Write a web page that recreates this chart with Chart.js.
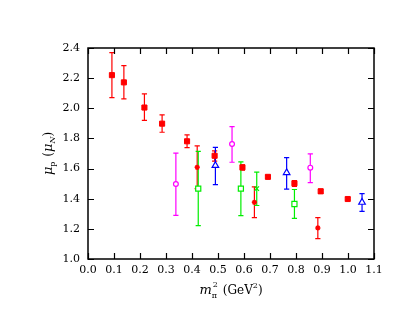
<!DOCTYPE html>
<html><head><meta charset="utf-8">
<script src="https://cdn.jsdelivr.net/npm/chart.js@4"></script>
<style>html,body{margin:0;padding:0;background:#fff}canvas{display:block}</style>
</head><body>
<div style="width:415px;height:321px"><canvas id="c" width="415" height="321"></canvas></div>
<script>
// ---- data (x = m_pi^2 in GeV^2, y = mu_p in mu_N, lo/hi = error bar ends)
const redSqX  = [0.092, 0.138, 0.217, 0.285, 0.381, 0.487, 0.594, 0.692, 0.794, 0.895, 0.999];
const redSqY  = [2.22, 2.172, 2.005, 1.898, 1.781, 1.685, 1.608, 1.545, 1.502, 1.449, 1.398];
const redSqLo = [2.071, 2.062, 1.920, 1.841, 1.739, 1.650, 1.590, 1.535, 1.482, 1.436, 1.390];
const redSqHi = [2.369, 2.283, 2.095, 1.956, 1.823, 1.718, 1.625, 1.555, 1.520, 1.463, 1.408];

const redStX  = [0.420, 0.640, 0.884];
const redStY  = [1.608, 1.376, 1.206];
const redStLo = [1.467, 1.275, 1.135];
const redStHi = [1.750, 1.478, 1.275];

const grnSqX  = [0.424, 0.588, 0.794];
const grnSqY  = [1.467, 1.467, 1.365];
const grnSqLo = [1.222, 1.288, 1.270];
const grnSqHi = [1.714, 1.645, 1.461];

const grnXX   = [0.649];
const grnXY   = [1.467];
const grnXLo  = [1.355];
const grnXHi  = [1.577];

const bluX    = [0.490, 0.764, 1.054];
const bluY    = [1.620, 1.573, 1.376];
const bluLo   = [1.494, 1.464, 1.316];
const bluHi   = [1.741, 1.673, 1.434];

const magX    = [0.338, 0.554, 0.855];
const magY    = [1.498, 1.763, 1.606];
const magLo   = [1.290, 1.642, 1.507];
const magHi   = [1.703, 1.878, 1.697];

const xTickVals = [0.0,0.1,0.2,0.3,0.4,0.5,0.6,0.7,0.8,0.9,1.0,1.1];
const yTickVals = [1.0,1.2,1.4,1.6,1.8,2.0,2.2,2.4];

function pts(xs, ys, lo, hi){ return xs.map((x,i)=>({x:x, y:ys[i], lo:lo[i], hi:hi[i]})); }

const datasets = [
  {data: pts(redSqX,redSqY,redSqLo,redSqHi), pointStyle:'rect', radius:3.6, borderColor:'#ff0000', backgroundColor:'#ff0000', borderWidth:1, ebColor:'#ff0000'},
  {data: pts(redStX,redStY,redStLo,redStHi), pointStyle:'star', radius:2.6, borderColor:'#ff0000', backgroundColor:'#ff0000', borderWidth:1.5, ebColor:'#ff0000'},
  {data: pts(grnSqX,grnSqY,grnSqLo,grnSqHi), pointStyle:'rect', radius:3.6, borderColor:'#00ee00', backgroundColor:'#ffffff', borderWidth:1.2, ebColor:'#00ee00'},
  {data: pts(grnXX,grnXY,grnXLo,grnXHi), pointStyle:'crossRot', radius:3.2, borderColor:'#00ee00', backgroundColor:'#00ee00', borderWidth:1.2, ebColor:'#00ee00'},
  {data: pts(bluX,bluY,bluLo,bluHi), pointStyle:'triangle', radius:3.8, borderColor:'#0000ff', backgroundColor:'#ffffff', borderWidth:1.2, ebColor:'#0000ff'},
  {data: pts(magX,magY,magLo,magHi), pointStyle:'circle', radius:2.4, borderColor:'#ff00ff', backgroundColor:'#ffffff', borderWidth:1.2, ebColor:'#ff00ff'}
];
datasets.forEach(d=>{ d.pointRadius=d.radius; d.showLine=false; });

const errorBars = {
  id:'errorBars',
  beforeDatasetsDraw(chart){
    const {ctx, scales:{x, y}} = chart;
    ctx.save();
    chart.data.datasets.forEach(ds=>{
      ctx.strokeStyle = ds.ebColor; ctx.lineWidth = 1.2;
      ds.data.forEach(p=>{
        const px = x.getPixelForValue(p.x);
        const pl = y.getPixelForValue(p.lo), ph = y.getPixelForValue(p.hi);
        ctx.beginPath();
        ctx.moveTo(px, pl); ctx.lineTo(px, ph);
        ctx.moveTo(px-2.6, pl); ctx.lineTo(px+2.6, pl);
        ctx.moveTo(px-2.6, ph); ctx.lineTo(px+2.6, ph);
        ctx.stroke();
      });
    });
    ctx.restore();
  }
};

const frame = {
  id:'frame',
  afterDraw(chart){
    const {ctx, chartArea:a, scales:{x, y}} = chart;
    ctx.save();
    ctx.strokeStyle = '#000'; ctx.lineWidth = 1.5;
    ctx.strokeRect(a.left, a.top, a.right-a.left, a.bottom-a.top);
    ctx.lineWidth = 1.2;
    ctx.beginPath();
    xTickVals.forEach(v=>{
      const px = Math.round(x.getPixelForValue(v))+0.5;
      ctx.moveTo(px, a.bottom); ctx.lineTo(px, a.bottom-6);
      ctx.moveTo(px, a.top); ctx.lineTo(px, a.top+6);
    });
    yTickVals.forEach(v=>{
      const py = Math.round(y.getPixelForValue(v))+0.5;
      ctx.moveTo(a.left, py); ctx.lineTo(a.left+6, py);
      ctx.moveTo(a.right, py); ctx.lineTo(a.right-6, py);
    });
    ctx.stroke();

    // axis titles
    ctx.fillStyle = '#000';
    ctx.textBaseline = 'alphabetic';
    // x title: m_pi^2 (GeV^2)
    const cx = (a.left+a.right)/2, by = 294;
    const parts = [];
    ctx.font = 'italic 13px "DejaVu Serif"'; const wm = ctx.measureText('m').width;
    ctx.font = '8px "DejaVu Serif"'; const wpi = ctx.measureText('π').width, w2 = ctx.measureText('2').width;
    ctx.font = '12px "DejaVu Serif"'; const wg = ctx.measureText(' (GeV').width, wr = ctx.measureText(')').width;
    const total = wm + Math.max(wpi,w2) + 2 + wg + w2 + wr;
    let xx = cx - total/2;
    ctx.textAlign = 'left';
    ctx.font = 'italic 13px "DejaVu Serif"'; ctx.fillText('m', xx, by); xx += wm;
    ctx.font = '8px "DejaVu Serif"'; ctx.fillText('π', xx, by+4); ctx.fillText('2', xx+1, by-7); xx += Math.max(wpi,w2)+2;
    ctx.font = '12px "DejaVu Serif"'; ctx.fillText(' (GeV', xx, by); xx += wg;
    ctx.font = '8px "DejaVu Serif"'; ctx.fillText('2', xx, by-6); xx += w2;
    ctx.font = '12px "DejaVu Serif"'; ctx.fillText(')', xx, by);

    // y title: mu_p (mu_N) rotated
    ctx.translate(52, (a.top+a.bottom)/2);
    ctx.rotate(-Math.PI/2);
    ctx.font = 'italic 13px "DejaVu Serif"'; const wmu = ctx.measureText('μ').width;
    ctx.font = '8px "DejaVu Serif"'; const wp = ctx.measureText('p').width, wN = ctx.measureText('N').width;
    ctx.font = '12px "DejaVu Serif"'; const wo = ctx.measureText(' (').width, wc = ctx.measureText(')').width;
    const tot2 = wmu + wp + 1 + wo + wmu + wN + wc;
    xx = -tot2/2;
    ctx.font = 'italic 13px "DejaVu Serif"'; ctx.fillText('μ', xx, 0); xx += wmu;
    ctx.font = '8px "DejaVu Serif"'; ctx.fillText('p', xx, 3); xx += wp+1;
    ctx.font = '12px "DejaVu Serif"'; ctx.fillText(' (', xx, 0); xx += wo;
    ctx.font = 'italic 13px "DejaVu Serif"'; ctx.fillText('μ', xx, 0); xx += wmu;
    ctx.font = 'italic 8px "DejaVu Serif"'; ctx.fillText('N', xx, 3); xx += wN;
    ctx.font = '12px "DejaVu Serif"'; ctx.fillText(')', xx, 0);
    ctx.restore();
  }
};

new Chart(document.getElementById('c'), {
  type:'scatter',
  data:{datasets},
  options:{
    responsive:false, animation:false, devicePixelRatio:1,
    layout:{padding:{top:48, right:41, left:0, bottom:0}},
    plugins:{legend:{display:false}, tooltip:{enabled:false}},
    scales:{
      x:{type:'linear', min:0, max:1.1,
         afterBuildTicks:s=>{ s.ticks = xTickVals.map(v=>({value:v})); },
         ticks:{callback:v=>Number(v).toFixed(1), font:{family:'DejaVu Serif', size:11}, color:'#000', padding:5, autoSkip:false, maxRotation:0},
         grid:{display:false, drawTicks:false}, border:{display:false},
         afterFit:s=>{ s.height = 62; }},
      y:{type:'linear', min:1.0, max:2.4,
         afterBuildTicks:s=>{ s.ticks = yTickVals.map(v=>({value:v})); },
         ticks:{callback:v=>Number(v).toFixed(1), font:{family:'DejaVu Serif', size:11}, color:'#000', padding:8, autoSkip:false},
         grid:{display:false, drawTicks:false}, border:{display:false},
         afterFit:s=>{ s.width = 88; }}
    }
  },
  plugins:[errorBars, frame]
});
</script>
</body></html>
